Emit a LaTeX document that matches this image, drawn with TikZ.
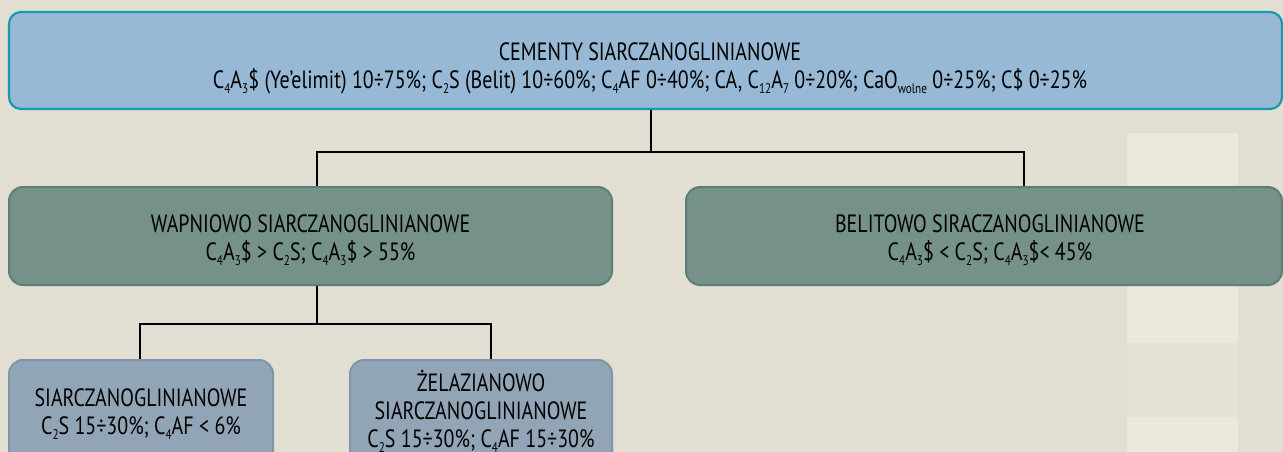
\documentclass[tikz,border=0pt]{standalone}
\usepackage{fontspec}
\setmainfont{PT Sans}[FakeStretch=0.8]
\newcommand\lo[1]{\raisebox{-5pt}{\fontsize{14}{14}\selectfont #1}}
\definecolor{bgcol}{HTML}{E2DFD2}
\definecolor{bgcolumn}{HTML}{EAE7DB}
\definecolor{topfill}{HTML}{97B9D6}
\definecolor{topdraw}{HTML}{1899AE}
\definecolor{midfill}{HTML}{75918A}
\definecolor{middraw}{HTML}{5B7E76}
\definecolor{lowfill}{HTML}{92A5B7}
\definecolor{lowdraw}{HTML}{7F96AA}
\tikzset{
  x=1pt, y=-1pt,
  txt/.style={font=\fontsize{25}{28}\selectfont, align=center, inner sep=0pt, text=black},
  topbox/.style={draw=topdraw, fill=topfill, line width=2.2pt, rounded corners=12pt, inner sep=0pt},
  midbox/.style={draw=middraw, fill=midfill, line width=2pt, rounded corners=14pt, inner sep=0pt},
  lowbox/.style={draw=lowdraw, fill=lowfill, line width=2pt, rounded corners=14pt, inner sep=0pt},
  conn/.style={draw=black, line width=2.4pt}
}
\begin{document}
\begin{tikzpicture}
\useasboundingbox (0,0) rectangle (1283,452);
\clip (0,0) rectangle (1283,452);
\fill[bgcol] (0,0) rectangle (1283,452);
% faint background column
\fill[bgcolumn] (1127,133) rectangle (1238,452);
\fill[bgcol!70!bgcolumn] (1127,343) rectangle (1238,417);

\node[topbox, minimum width=1273pt, minimum height=97pt] (top) at (645.5,60.5) {};
\node[txt] (toptxt) at (650,68)
  {CEMENTY SIARCZANOGLINIANOWE\\
   C\lo{4}A\lo{3}\$ (Ye’elimit) 10÷75\%; C\lo{2}S (Belit) 10÷60\%; C\lo{4}AF 0÷40\%; CA, C\lo{12}A\lo{7} 0÷20\%; CaO\lo{wolne} 0÷25\%; C\$ 0÷25\%};

\node[midbox, minimum width=603pt, minimum height=98pt] (wap) at (310.5,236) {};
\node[txt] (waptxt) at (310.5,240)
  {WAPNIOWO SIARCZANOGLINIANOWE\\
   C\lo{4}A\lo{3}\$ > C\lo{2}S; C\lo{4}A\lo{3}\$ > 55\%};

\node[midbox, minimum width=596pt, minimum height=98pt] (bel) at (984,236) {};
\node[txt] (beltxt) at (990,240)
  {BELITOWO SIRACZANOGLINIANOWE\\
   C\lo{4}A\lo{3}\$ < C\lo{2}S; C\lo{4}A\lo{3}\$< 45\%};

\node[lowbox, minimum width=264pt, minimum height=110pt] (sia) at (141,415) {};
\node[txt] (siatxt) at (141,414)
  {SIARCZANOGLINIANOWE\\
   C\lo{2}S 15÷30\%; C\lo{4}AF < 6\%};

\node[lowbox, minimum width=262pt, minimum height=110pt] (zel) at (481,415) {};
\node[txt] (zeltxt) at (481,411)
  {ŻELAZIANOWO\\
   SIARCZANOGLINIANOWE\\
   C\lo{2}S 15÷30\%; C\lo{4}AF 15÷30\%};

\coordinate (j0) at (651,152);
\coordinate (jl) at (317,152);
\coordinate (jr) at (1024,152);
\coordinate (k0) at (317,324);
\coordinate (kl) at (140,324);
\coordinate (kr) at (491,324);

\draw[conn] (top.south -| j0) -- (j0);
\draw[conn] (wap.north -| jl) -- (jl) -- (jr) -- (bel.north -| jr);
\draw[conn] (wap.south -| k0) -- (k0);
\draw[conn] (sia.north -| kl) -- (kl) -- (kr) -- (zel.north -| kr);
\end{tikzpicture}
\end{document}
